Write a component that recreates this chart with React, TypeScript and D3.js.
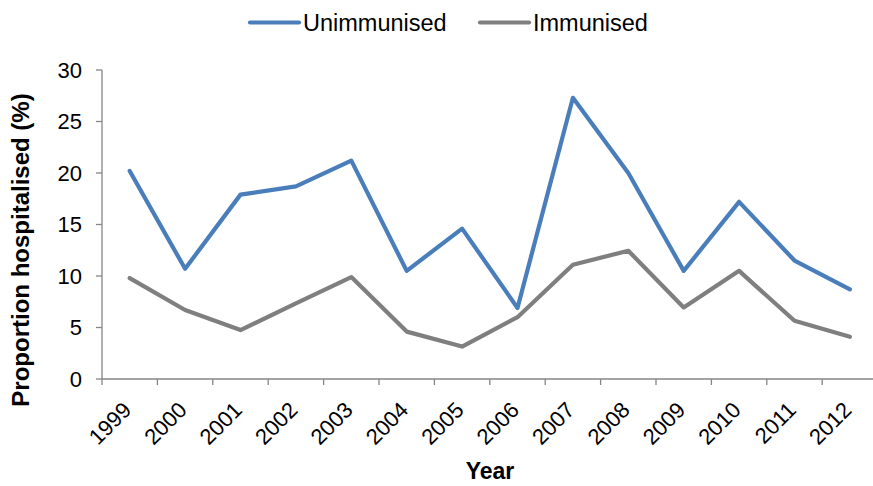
import * as d3 from 'd3';

const years = ['1999', '2000', '2001', '2002', '2003', '2004', '2005', '2006', '2007', '2008', '2009', '2010', '2011', '2012'];
const unimmunised = [20.2, 10.7, 17.9, 18.7, 21.2, 10.5, 14.6, 6.9, 27.3, 20.0, 10.5, 17.2, 11.5, 8.7];
const immunised = [9.8, 6.7, 4.75, 7.35, 9.9, 4.6, 3.15, 6.0, 11.1, 12.45, 6.95, 10.5, 5.65, 4.1];
const yTicks = [0, 5, 10, 15, 20, 25, 30];

const W = 873;
const H = 486;
const font = 'Liberation Sans, Arial, sans-serif';
const axisColor = '#868686';

export default function App() {
  // plot area
  const left = 102, top = 70, bottom = 379;
  const x = d3.scaleBand<string>().domain(years).range([left, left + 55.4 * years.length]).padding(0);
  const y = d3.scaleLinear().domain([0, 30]).range([bottom, top]);
  const cx = (yr: string) => (x(yr) ?? 0) + x.bandwidth() / 2;

  const line = d3.line<number>()
    .x((_, i) => cx(years[i]))
    .y((v) => y(v));

  const series = [
    { name: 'Unimmunised', values: unimmunised, color: '#4a7ebb' },
    { name: 'Immunised', values: immunised, color: '#7f7f7f' },
  ];
  const legendX = [250, 480];

  return (
    <svg width={W} height={H} style={{ display: 'block', position: 'absolute', left: 0, top: 0 }} fontFamily={font}>
      <rect width={W} height={H} fill="#fff" />

      {/* y axis */}
      <line x1={left} x2={left} y1={top} y2={bottom} stroke={axisColor} strokeWidth={1.3} />
      {yTicks.map((t) => (
        <g key={t}>
          <line x1={left - 6} x2={left} y1={y(t)} y2={y(t)} stroke={axisColor} strokeWidth={1.3} />
          <text x={left - 20} y={y(t)} dy="0.35em" textAnchor="end" fontSize={22} fill="#000">{t}</text>
        </g>
      ))}

      {/* x axis */}
      <line x1={left} x2={W} y1={bottom} y2={bottom} stroke={axisColor} strokeWidth={1.3} />
      {years.map((yr) => (
        <line key={'t' + yr} x1={x(yr)} x2={x(yr)} y1={bottom} y2={bottom + 6} stroke={axisColor} strokeWidth={1.3} />
      ))}
      {years.map((yr) => (
        <text key={'l' + yr} transform={`translate(${cx(yr) - 2.5},${bottom + 27}) rotate(-45)`} textAnchor="end" dy="0.35em" fontSize={22} fill="#000">{yr}</text>
      ))}

      {/* lines */}
      {series.map((s) => (
        <path key={s.name} d={line(s.values) ?? ''} fill="none" stroke={s.color} strokeWidth={4.2} strokeLinejoin="round" strokeLinecap="round" />
      ))}

      {/* legend */}
      {series.map((s, i) => (
        <g key={'lg' + s.name}>
          <line x1={legendX[i]} x2={legendX[i] + 49} y1={22.5} y2={22.5} stroke={s.color} strokeWidth={4.2} strokeLinecap="round" />
          <text x={legendX[i] + 53} y={22.5} dy="0.35em" fontSize={23.5} fill="#000">{s.name}</text>
        </g>
      ))}

      {/* titles */}
      <text transform={`translate(29,250) rotate(-90)`} textAnchor="middle" fontSize={24} fontWeight="bold" fill="#000">Proportion hospitalised (%)</text>
      <text x={490} y={479} textAnchor="middle" fontSize={23} fontWeight="bold" fill="#000">Year</text>
    </svg>
  );
}
